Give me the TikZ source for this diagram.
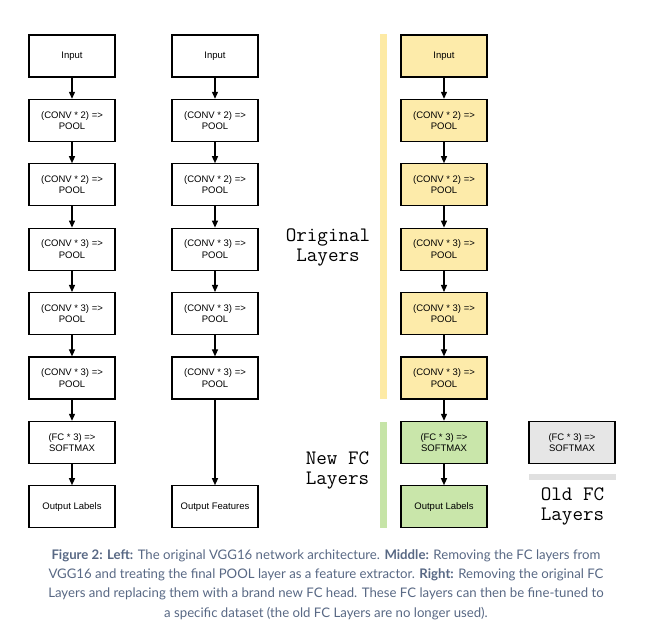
\documentclass[tikz,border=0pt]{standalone}
\usepackage{fontspec}
\setmainfont{Liberation Sans}
\newfontfamily\boxfont{Liberation Sans}
\newfontfamily\monofont{Latin Modern Mono}
\newfontfamily\capfont{Lato}
\usetikzlibrary{arrows.meta}
\definecolor{yelfill}{RGB}{253,235,170}
\definecolor{yelbar}{RGB}{253,234,165}
\definecolor{grnfill}{RGB}{201,230,170}
\definecolor{grnbar}{RGB}{198,228,167}
\definecolor{greyfill}{RGB}{230,230,230}
\definecolor{greybar}{RGB}{224,224,224}
\definecolor{captext}{RGB}{88,104,132}
\tikzset{
  layerbox/.style={draw=black, line width=1.2pt, rectangle, minimum width=86pt, minimum height=42pt, inner sep=0pt, align=center, font=\boxfont\fontsize{9.5}{11.5}\selectfont},
  yelbox/.style={layerbox, fill=yelfill},
  grnbox/.style={layerbox, fill=grnfill},
  greybox/.style={layerbox, fill=greyfill},
  flow/.style={draw=black, line width=1.2pt, -{Triangle[width=6pt,length=7pt]}},
  sidelabel/.style={align=center, inner sep=0pt, font=\monofont\fontsize{20.5}{20}\selectfont},
}
\begin{document}
\begin{tikzpicture}[x=1pt,y=-1pt]
\useasboundingbox (0,0) rectangle (648,636);
% column 1
\node[layerbox] (a1) at (72,56) {Input};
\node[layerbox] (a2) at (72,120.4) {(CONV * 2) =>\\POOL};
\node[layerbox] (a3) at (72,184.8) {(CONV * 2) =>\\POOL};
\node[layerbox] (a4) at (72,249.2) {(CONV * 3) =>\\POOL};
\node[layerbox] (a5) at (72,313.6) {(CONV * 3) =>\\POOL};
\node[layerbox] (a6) at (72,378) {(CONV * 3) =>\\POOL};
\node[layerbox] (a7) at (72,442.4) {(FC * 3) =>\\SOFTMAX};
\node[layerbox] (a8) at (72,506.8) {Output Labels};
\foreach \i/\j in {1/2,2/3,3/4,4/5,5/6,6/7,7/8} \draw[flow] (a\i) -- (a\j);
% column 2
\node[layerbox] (b1) at (215,56) {Input};
\node[layerbox] (b2) at (215,120.4) {(CONV * 2) =>\\POOL};
\node[layerbox] (b3) at (215,184.8) {(CONV * 2) =>\\POOL};
\node[layerbox] (b4) at (215,249.2) {(CONV * 3) =>\\POOL};
\node[layerbox] (b5) at (215,313.6) {(CONV * 3) =>\\POOL};
\node[layerbox] (b6) at (215,378) {(CONV * 3) =>\\POOL};
\node[layerbox] (b8) at (215,506.8) {Output Features};
\foreach \i/\j in {1/2,2/3,3/4,4/5,5/6,6/8} \draw[flow] (b\i) -- (b\j);
% column 3
\node[yelbox] (c1) at (444,56) {Input};
\node[yelbox] (c2) at (444,120.4) {(CONV * 2) =>\\POOL};
\node[yelbox] (c3) at (444,184.8) {(CONV * 2) =>\\POOL};
\node[yelbox] (c4) at (444,249.2) {(CONV * 3) =>\\POOL};
\node[yelbox] (c5) at (444,313.6) {(CONV * 3) =>\\POOL};
\node[yelbox] (c6) at (444,378) {(CONV * 3) =>\\POOL};
\node[grnbox] (c7) at (444,442.4) {(FC * 3) =>\\SOFTMAX};
\node[grnbox] (c8) at (444,506.8) {Output Labels};
\foreach \i/\j in {1/2,2/3,3/4,4/5,5/6,6/7,7/8} \draw[flow] (c\i) -- (c\j);
% old FC
\node[greybox] (d7) at (572,442.4) {(FC * 3) =>\\SOFTMAX};
\fill[greybar] (529,474) rectangle (615.5,480);
% side bars
\fill[yelbar] (380,34) rectangle (386.5,399);
\fill[grnbar] (380,422) rectangle (386.5,528);
% side labels (anchored at the baseline of the last line)
\node[sidelabel, anchor=base] (lorig) at (328,262) {Original\\Layers};
\node[sidelabel, anchor=base] (lnew) at (337.5,484.5) {New FC\\Layers};
\node[sidelabel, anchor=base] (lold) at (572.5,520.5) {Old FC\\Layers};
% caption
\node[align=center, inner sep=0pt, text=captext, font=\capfont\fontsize{13.2}{19.2}\selectfont, anchor=base] (cap) at (326,617)
{\textbf{Figure 2: Left:} The original VGG16 network architecture. \textbf{Middle:} Removing the FC layers from\\
VGG16 and treating the final POOL layer as a feature extractor. \textbf{Right:} Removing the original FC\\
Layers and replacing them with a brand new FC head. These FC layers can then be fine-tuned to\\
a specific dataset (the old FC Layers are no longer used).};
\end{tikzpicture}
\end{document}
